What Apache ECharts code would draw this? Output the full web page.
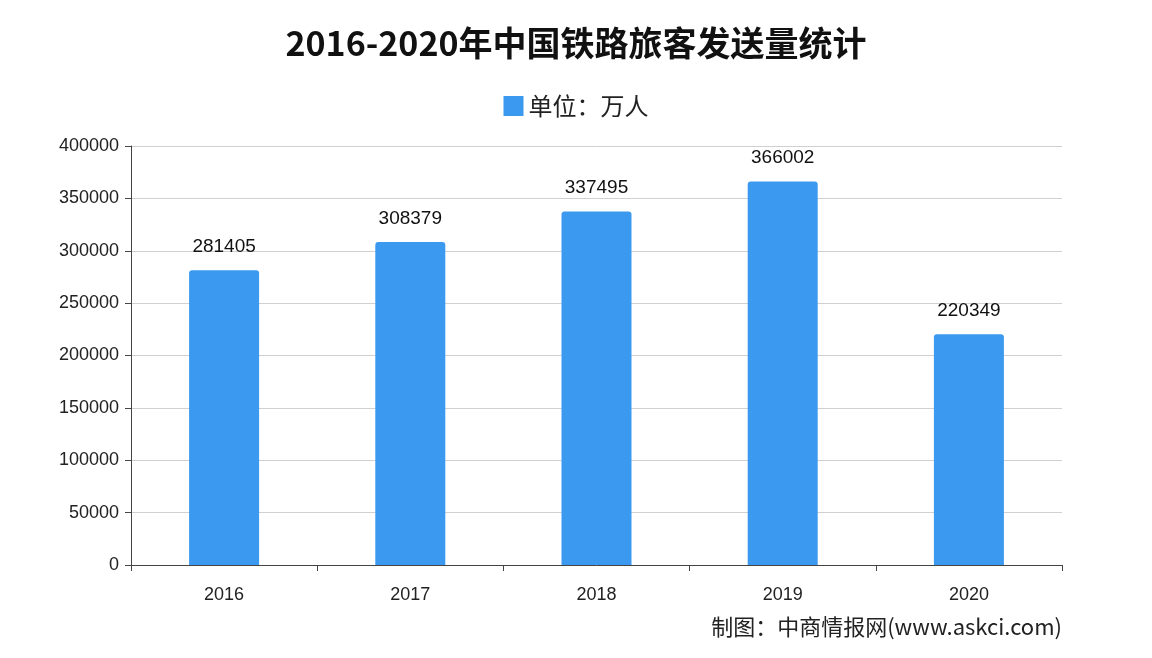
<!DOCTYPE html>
<html><head><meta charset="utf-8">
<script src="https://cdn.jsdelivr.net/npm/echarts@6/dist/echarts.min.js"></script>
<style>html,body{margin:0;padding:0;background:#fff}#c{width:1152px;height:658px}</style>
</head><body><div id="c"></div>
<script>
const categories = ['2016','2017','2018','2019','2020'];
const values = [281405, 308379, 337495, 366002, 220349];
const yTicks = [0, 50000, 100000, 150000, 200000, 250000, 300000, 350000, 400000];
const seriesName = '单位：万人';
const titleText = '2016-2020年中国铁路旅客发送量统计';
const sourceText = '制图：中商情报网(www.askci.com)';

const chart = echarts.init(document.getElementById('c'));
const font = '"Noto Sans CJK SC", "Noto Sans", sans-serif';
const numFont = '"Liberation Sans", Arial, sans-serif';
chart.setOption({
  backgroundColor: '#fff',
  animation: false,
  title: {
    text: titleText, left: 'center', top: 21,
    textStyle: { fontSize: 34, fontWeight: 'bold', color: '#111', fontFamily: font }
  },
  legend: {
    data: [seriesName], top: 89, left: 'center', itemWidth: 20, itemHeight: 20, itemGap: 6,
    icon: 'rect',
    textStyle: { fontSize: 24, color: '#222', fontFamily: font }
  },
  graphic: [{
    type: 'text', right: 90, top: 616,
    style: { text: sourceText, fontSize: 22, fill: '#222', fontFamily: font }
  }],
  grid: { left: 131, right: 90, top: 146, bottom: 93, containLabel: false },
  xAxis: {
    type: 'category', data: categories,
    axisLine: { lineStyle: { color: '#444', width: 1 } },
    axisTick: { show: true, alignWithLabel: false, length: 6, lineStyle: { color: '#444' } },
    axisLabel: { fontSize: 18, color: '#222', margin: 21, fontFamily: numFont }
  },
  yAxis: {
    type: 'value', min: yTicks[0], max: yTicks[yTicks.length - 1], interval: yTicks[1] - yTicks[0],
    axisLine: { show: true, lineStyle: { color: '#444', width: 1 } },
    axisTick: { show: true, length: 6, lineStyle: { color: '#444' } },
    axisLabel: { fontSize: 18, color: '#222', margin: 12, fontFamily: numFont, formatter: v => String(v) },
    splitLine: { lineStyle: { color: '#d0d0d0', width: 1 } }
  },
  series: [{
    name: seriesName, type: 'bar', data: values, barWidth: 70,
    itemStyle: { color: '#3b99ef', borderRadius: [3, 3, 0, 0] },
    label: { show: true, position: 'top', distance: 14, fontSize: 19, color: '#111', fontFamily: numFont }
  }]
});
</script></body></html>
